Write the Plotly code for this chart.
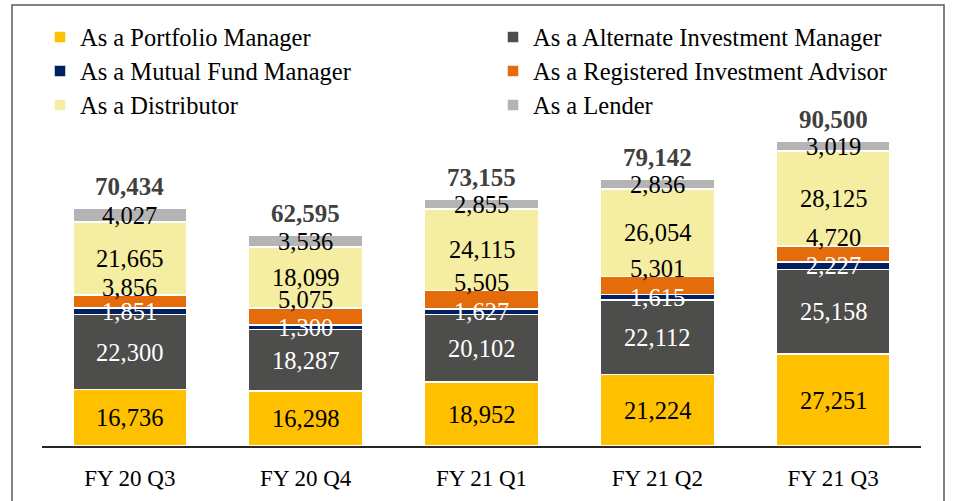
import plotly.graph_objects as go
import numpy as np

categories = ["FY 20 Q3", "FY 20 Q4", "FY 21 Q1", "FY 21 Q2", "FY 21 Q3"]
series_names = [
    "As a Portfolio Manager",
    "As a Alternate Investment Manager",
    "As a Mutual Fund Manager",
    "As a Registered Investment Advisor",
    "As a Distributor",
    "As a Lender",
]
portfolio = [16736, 16298, 18952, 21224, 27251]
alternate = [22300, 18287, 20102, 22112, 25158]
mutual = [1851, 1300, 1627, 1615, 2227]
ria = [3856, 5075, 5505, 5301, 4720]
distributor = [21665, 18099, 24115, 26054, 28125]
lender = [4027, 3536, 2855, 2836, 3019]
totals = [70434, 62595, 73155, 79142, 90500]

series_values = [portfolio, alternate, mutual, ria, distributor, lender]
colors = ["#FFC000", "#4D4D4B", "#002060", "#E46C0A", "#F5EDA1", "#B4B4B4"]
text_colors = ["#000000", "#FFFFFF", "#FFFFFF", "#000000", "#000000", "#000000"]
legend_ids = ["legend", "legend", "legend2", "legend2", "legend3", "legend3"]

FONT = "Liberation Serif"
W, H = 953, 501
ML, MR, MT, MB = 42, 32, 109, 55
PW, PH = W - ML - MR, H - MT - MB


def px_to_paper_y(py):
    return (H - MB - py) / PH


def px_to_paper_x(px):
    return (px - ML) / PW


fig = go.Figure()
for name, vals, col, lg in zip(series_names, series_values, colors, legend_ids):
    fig.add_trace(go.Bar(
        x=categories, y=vals, name=name, legend=lg,
        marker=dict(color=col, line=dict(color="#FFFFFF", width=1.5)),
        hoverinfo="skip",
    ))

annotations = []
cum = np.zeros(len(categories))
for i, (vals, tc) in enumerate(zip(series_values, text_colors)):
    vals = np.array(vals, dtype=float)
    for j, cat in enumerate(categories):
        if i == 3:
            y, ys = cum[j] + vals[j], 8
        else:
            y, ys = cum[j] + vals[j] / 2, 0
        annotations.append(dict(
            x=cat, y=y, xref="x", yref="y",
            text=f"{int(vals[j]):,}", showarrow=False,
            yanchor="middle", yshift=ys,
            font=dict(family=FONT, size=24.5, color=tc)))
    cum += vals

for j, cat in enumerate(categories):
    annotations.append(dict(
        x=cat, y=totals[j], xref="x", yref="y",
        text=f"<b>{totals[j]:,}</b>", showarrow=False,
        yanchor="middle", yshift=22,
        font=dict(family=FONT, size=25, color="#404040")))

legend_common = dict(
    orientation="h", xanchor="left", yanchor="middle",
    entrywidth=408, entrywidthmode="pixels", traceorder="normal",
    font=dict(family=FONT, size=24.5, color="#000000"),
    itemwidth=30, bgcolor="rgba(0,0,0,0)",
)
lx = px_to_paper_x(40)

fig.update_layout(
    width=W, height=H,
    margin=dict(l=ML, r=MR, t=MT, b=MB, autoexpand=False),
    barmode="stack",
    bargap=0.35,
    plot_bgcolor="#FFFFFF",
    paper_bgcolor="#FFFFFF",
    font=dict(family=FONT, size=24, color="#000000"),
    showlegend=True,
    legend=dict(x=lx, y=px_to_paper_y(37), **legend_common),
    legend2=dict(x=lx, y=px_to_paper_y(71), **legend_common),
    legend3=dict(x=lx, y=px_to_paper_y(105), **legend_common),
    annotations=annotations,
    shapes=[dict(
        type="rect", xref="paper", yref="paper",
        x0=px_to_paper_x(12), x1=px_to_paper_x(944),
        y0=px_to_paper_y(510), y1=px_to_paper_y(5),
        line=dict(color="#5A5A5A", width=1.5), fillcolor="rgba(0,0,0,0)",
        layer="below",
    )],
    xaxis=dict(
        showline=True, linecolor="#262626", linewidth=2,
        showgrid=False, ticks="", ticklabelstandoff=10,
        tickfont=dict(family=FONT, size=23, color="#000000"),
    ),
    yaxis=dict(
        range=[0, 100000], visible=False, showgrid=False, zeroline=False,
    ),
)

fig.write_html(
    "out.html",
    config={"displayModeBar": False},
    post_script="document.body.style.margin='0';",
)
